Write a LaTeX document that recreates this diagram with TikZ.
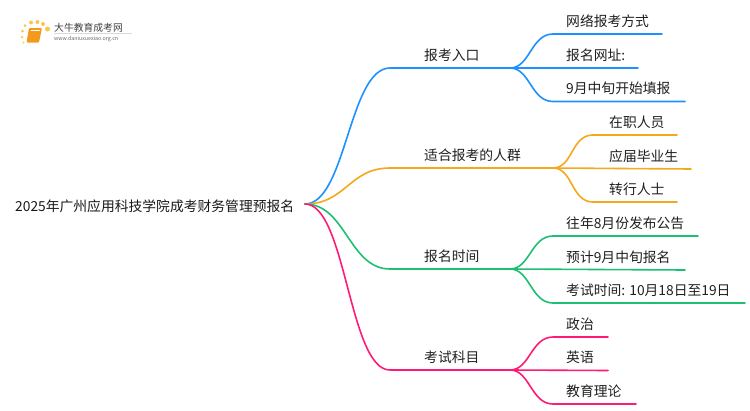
\documentclass[tikz,border=0pt]{standalone}
\usepackage{fontspec}
\setmainfont{Noto Sans CJK SC}
\usetikzlibrary{positioning}
\usetikzlibrary{calc}
\definecolor{lineblue}{HTML}{1E90FF}
\definecolor{lineorange}{HTML}{F5A81C}
\definecolor{linegreen}{HTML}{1DBF73}
\definecolor{linepink}{HTML}{FF1A75}
\definecolor{bookorange}{HTML}{F39A1E}
\definecolor{dotyellow}{HTML}{FBC44A}
\tikzset{
txt/.style = {anchor=base west, inner sep=0pt, yshift=7.6pt, font=\fontsize{13.8}{16}\selectfont, text=black!88},
wire/.style = {line width=1.6pt, line cap=round},
b/.style = {wire, draw=lineblue},
o/.style = {wire, draw=lineorange},
g/.style = {wire, draw=linegreen},
p/.style = {wire, draw=linepink},
dot/.style = {circle, fill=dotyellow, inner sep=0pt, minimum size=#1},
dot/.default = 4pt
}
% branch: from hub to the start of the line under a label
\newcommand{\forkup}[2]{.. controls ($(#1)+(20,0)$) and ($(#2)+(-22,0)$) .. (#2)}
\begin{document}
\begin{tikzpicture}[x=1pt,y=-1pt]
      \useasboundingbox (0,0) rectangle (750,410);
      % logo
      \node [dot=3pt] (d1) at (22.5,31) {};
      \node [dot=3pt] (d2) at (25,25.5) {};
      \node [dot=4pt] (d3) at (31,22.5) {};
      \node [dot=4pt] (d4) at (37.5,22) {};
      \node [dot=4pt] (d5) at (43,24) {};
      \node [dot=5pt] (d6) at (47.5,29) {};
      \node [dot=2.5pt] (d7) at (22,37) {};
      \node [dot=2pt] (d8) at (23.5,42.5) {};
      \fill [bookorange, rounded corners=1pt] (29,28) -- (42,28) -- (39,42.5) -- (26.5,42.5) -- cycle;
      \draw [white, line width=.5pt] (30.5,30.5) -- (39.5,30.5);
      \node [inner sep=0pt, anchor=west, font=\fontsize{9.8}{11}\selectfont, text=black!75] (logoname) at (54,27.5) {大牛教育成考网};
      \node [inner sep=0pt, anchor=west, font=\fontsize{5.3}{6}\selectfont, text=black!60] (logourl) at (54,39) {www.daniuxuexiao.org.cn};
      \coordinate (ruleA) at (54,33);
      \coordinate (ruleB) at (132,33);
      \draw [black!15, line width=.5pt] (ruleA) -- (ruleB);

      % root
      \node [anchor=west, inner sep=0pt, font=\fontsize{13.8}{16}\selectfont, text=black!90] (root) at (15,206) {2025年广州应用科技学院成考财务管理预报名};
      \coordinate (hub) at (305,204);

      % branch labels
      \coordinate (A) at (390,68);  \coordinate (Ae) at (510,68);
      \coordinate (B) at (390,168); \coordinate (Be) at (553,168);
      \coordinate (C) at (390,269); \coordinate (Ce) at (510,269);
      \coordinate (D) at (390,370); \coordinate (De) at (510,370);
      \node [txt] (nodeA) at (424,68)  {报考入口};
      \node [txt] (nodeB) at (424,168) {适合报考的人群};
      \node [txt] (nodeC) at (424,269) {报名时间};
      \node [txt] (nodeD) at (424,370) {考试科目};

      \draw [b] (hub) .. controls (346,204) and (349,68) .. (A) -- (Ae);
      \draw [o] (hub) .. controls (346,204) and (349,168) .. (B) -- (Be);
      \draw [g] (hub) .. controls (346,204) and (349,269) .. (C) -- (Ce);
      \draw [p] (hub) .. controls (346,204) and (349,370) .. (D) -- (De);

      % leaves of the first branch
      \coordinate (A1) at (553,34);    \coordinate (A1e) at (662,34);
      \coordinate (A2) at (553,68);    \coordinate (A2e) at (638,68);
      \coordinate (A3) at (553,101.5); \coordinate (A3e) at (685,101.5);
      \node [txt] (leafA1) at (566,34)    {网络报考方式};
      \node [txt] (leafA2) at (566,68)    {报名网址:};
      \node [txt] (leafA3) at (566,101.5) {9月中旬开始填报};
      \draw [b] (Ae) \forkup{Ae}{A1} -- (A1e);
      \draw [b] (Ae) -- (A2e);
      \draw [b] (Ae) \forkup{Ae}{A3} -- (A3e);

      % leaves of the second branch
      \coordinate (B1) at (593,135);   \coordinate (B1e) at (677,135);
      \coordinate (B2) at (593,169);   \coordinate (B2e) at (691,169);
      \coordinate (B3) at (593,202);   \coordinate (B3e) at (677,202);
      \node [txt] (leafB1) at (609,135) {在职人员};
      \node [txt] (leafB2) at (609,169) {应届毕业生};
      \node [txt] (leafB3) at (609,202) {转行人士};
      \draw [o] (Be) \forkup{Be}{B1} -- (B1e);
      \draw [o] (Be) -- (B2e);
      \draw [o] (Be) \forkup{Be}{B3} -- (B3e);

      % leaves of the third branch
      \coordinate (C1) at (553,236);   \coordinate (C1e) at (698,236);
      \coordinate (C2) at (553,270);   \coordinate (C2e) at (685,270);
      \coordinate (C3) at (553,303);   \coordinate (C3e) at (745,303);
      \node [txt] (leafC1) at (566,236) {往年8月份发布公告};
      \node [txt] (leafC2) at (566,270) {预计9月中旬报名};
      \node [txt] (leafC3) at (566,303) {考试时间: 10月18日至19日};
      \draw [g] (Ce) \forkup{Ce}{C1} -- (C1e);
      \draw [g] (Ce) -- (C2e);
      \draw [g] (Ce) \forkup{Ce}{C3} -- (C3e);

      % leaves of the fourth branch
      \coordinate (D1) at (553,337);   \coordinate (D1e) at (608,337);
      \coordinate (D2) at (553,370.5); \coordinate (D2e) at (608,370.5);
      \coordinate (D3) at (553,404);   \coordinate (D3e) at (636,404);
      \node [txt] (leafD1) at (566,337)   {政治};
      \node [txt] (leafD2) at (566,370.5) {英语};
      \node [txt] (leafD3) at (566,404)   {教育理论};
      \draw [p] (De) \forkup{De}{D1} -- (D1e);
      \draw [p] (De) -- (D2e);
      \draw [p] (De) \forkup{De}{D3} -- (D3e);
\end{tikzpicture}
\end{document}
